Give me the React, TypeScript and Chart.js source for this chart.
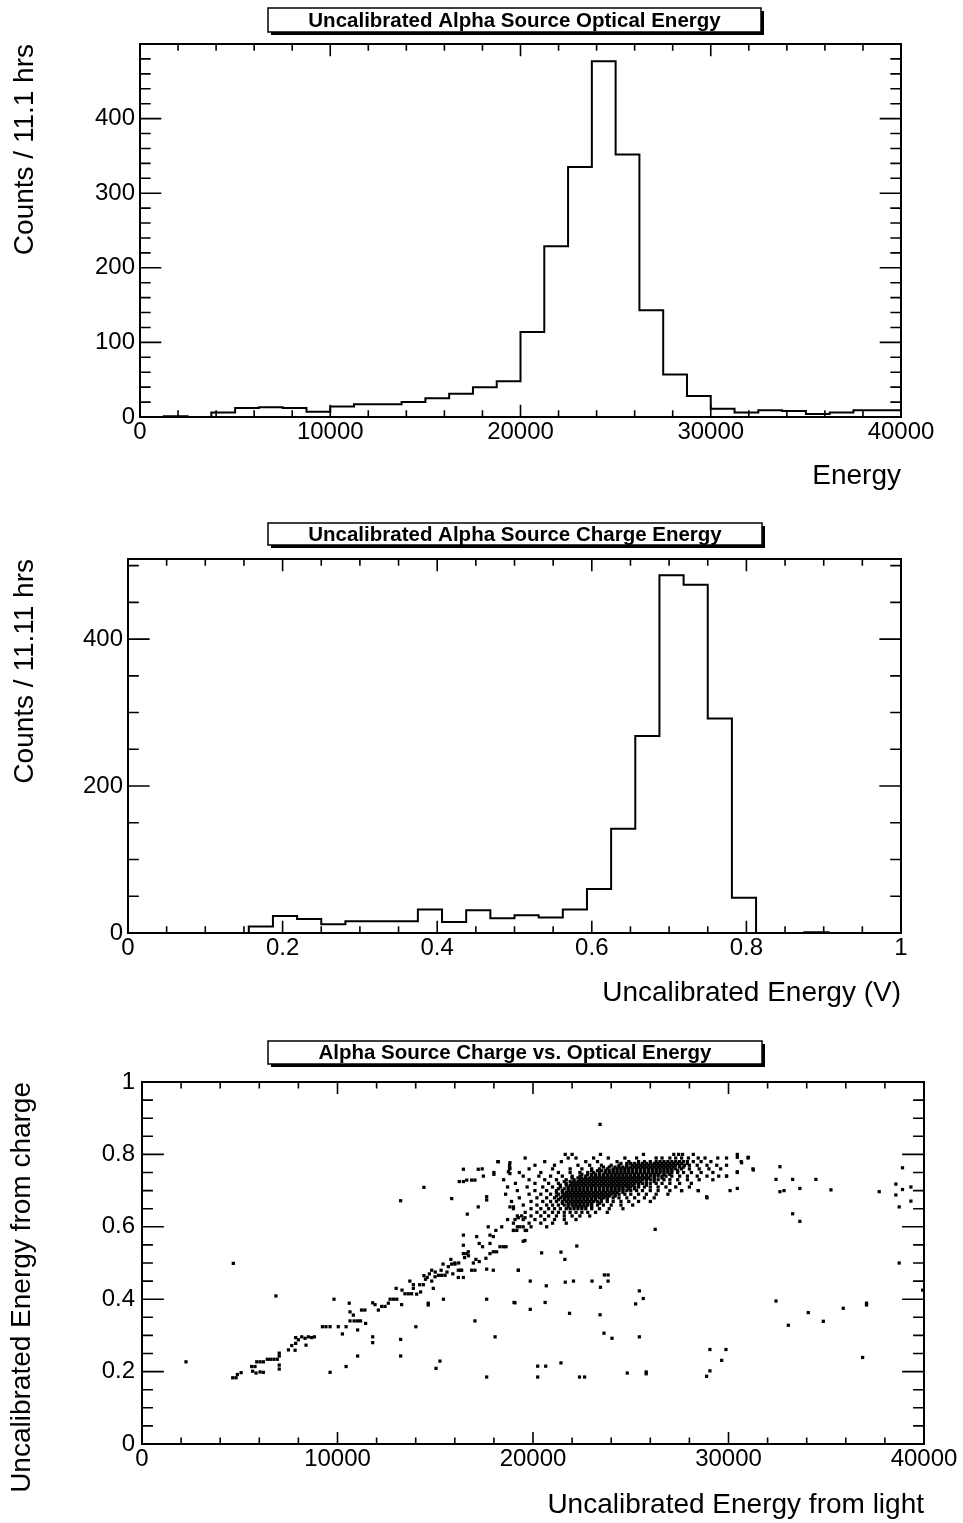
import { useEffect, useRef } from "react";
import { Chart, registerables } from "chart.js";

Chart.register(...registerables);

const FONT = '"Liberation Sans", Arial, Helvetica, sans-serif';

// ---- Optical energy histogram (32 bins, 0 .. 40000) ----
const opticalRange = [0, 40000];
const opticalCounts = [
  0, 1, 0, 6, 12, 13, 12, 7, 14, 17, 17, 20, 25, 31, 40, 48,
  114, 229, 335, 477, 352, 143, 57, 28, 11, 6, 9, 8, 4, 6, 9, 9,
];
const opticalXTicks = [0, 10000, 20000, 30000, 40000];
const opticalYTicks = [0, 100, 200, 300, 400];

// ---- Charge energy histogram (32 bins, 0 .. 1 V) ----
const chargeRange = [0, 1];
const chargeCounts = [
  0, 0, 0, 0, 0, 9, 23, 19, 12, 16, 16, 16, 32, 15, 31, 20,
  24, 21, 32, 60, 142, 268, 487, 474, 292, 48, 0, 0, 1, 0, 0, 0,
];
const chargeXTicks = [0, 0.2, 0.4, 0.6, 0.8, 1];
const chargeYTicks = [0, 200, 400];

// ---- Charge vs optical scatter ----
const scatterXTicks = [0, 10000, 20000, 30000, 40000];
const scatterYTicks = [0, 0.2, 0.4, 0.6, 0.8, 1];

// rising band of events below the main cluster
const bandPoints: [number, number][] = [
  [2250, 0.227], [4670, 0.499], [6850, 0.409],
  [4640, 0.183], [4810, 0.183], [4880, 0.192], [5070, 0.197],
  [5610, 0.214], [5780, 0.214], [5870, 0.227], [6040, 0.227], [6210, 0.227],
  [5660, 0.201], [5830, 0.196], [6040, 0.199], [6210, 0.198],
  [6410, 0.234], [6580, 0.234], [6750, 0.234], [6920, 0.234],
  [7020, 0.251], [7020, 0.243], [7020, 0.218], [7020, 0.207],
  [7490, 0.26], [7660, 0.272], [7860, 0.278], [7830, 0.259],
  [7860, 0.294], [8000, 0.288],
  [8170, 0.296], [8340, 0.292], [8510, 0.296], [8680, 0.294], [8820, 0.296],
  [8390, 0.273],
  [9230, 0.324], [9410, 0.324], [9620, 0.324],
  [9620, 0.198], [9820, 0.4], [10040, 0.324], [10250, 0.304], [10440, 0.324], [10440, 0.214],
  [10600, 0.389], [10640, 0.365], [10810, 0.356], [10850, 0.34], [11020, 0.34], [11180, 0.34], [10640, 0.34],
  [11030, 0.315], [11030, 0.243],
  [11230, 0.37], [11400, 0.37], [11440, 0.333],
  [11800, 0.39], [11920, 0.385], [12090, 0.37], [12260, 0.38], [12430, 0.38], [12600, 0.389],
  [12690, 0.4], [12860, 0.4], [13030, 0.4],
  [11800, 0.296], [11800, 0.28],
  [13230, 0.672], [13230, 0.289], [13230, 0.243],
  [13280, 0.385], [13450, 0.415], [13620, 0.415], [13790, 0.415], [13880, 0.44], [13880, 0.43],
  [14050, 0.414], [14250, 0.42], [14390, 0.44], [14420, 0.465], [14590, 0.46],
  [14010, 0.324], [14420, 0.709], [14640, 0.389], [14640, 0.384],
  [14820, 0.48], [14820, 0.45], [14900, 0.43], [14990, 0.462], [15160, 0.466], [15330, 0.466], [15500, 0.466],
  [15040, 0.209], [15240, 0.229], [15420, 0.4],
  [15670, 0.49], [15840, 0.497], [16010, 0.497], [16180, 0.48], [16350, 0.48], [16180, 0.46],
  [16440, 0.46], [16300, 0.48],
  [15840, 0.678],
  [16230, 0.725], [16440, 0.725], [16610, 0.729], [16440, 0.759],
  [16440, 0.577], [16440, 0.526], [16610, 0.526], [16690, 0.531], [16440, 0.549],
  [16860, 0.48], [17030, 0.48], [16950, 0.5], [17080, 0.51], [17250, 0.504],
  [16640, 0.635], [16860, 0.729], [17030, 0.729], [17030, 0.34], [17200, 0.759], [17460, 0.74], [17200, 0.655],
  [17120, 0.573], [17250, 0.554], [17420, 0.545],
  [17590, 0.513], [17630, 0.483],
  [17800, 0.526], [17970, 0.531], [18140, 0.531], [18310, 0.545], [18480, 0.545], [18620, 0.545],
  [17710, 0.6], [17800, 0.577], [17800, 0.554], [17970, 0.573], [17630, 0.683], [17630, 0.674],
  [17970, 0.48], [18000, 0.745], [18230, 0.78],
  [18740, 0.752], [18820, 0.762], [18820, 0.747], [18820, 0.777],
  [19080, 0.39], [17630, 0.4], [17630, 0.185], [18060, 0.296], [19250, 0.48],
  [19000, 0.59], [19170, 0.59], [19330, 0.6], [19500, 0.6], [19670, 0.59],
  [19080, 0.62], [19250, 0.625], [19420, 0.63], [19590, 0.625],
  [18820, 0.655], [19000, 0.655], [19500, 0.56], [19590, 0.562],
  [13000, 0.43], [13300, 0.425], [13700, 0.45], [14200, 0.44], [14500, 0.455], [14700, 0.47],
  [15000, 0.475], [15300, 0.48], [15600, 0.475], [15900, 0.47], [16200, 0.5], [16500, 0.515],
  [16700, 0.52], [15400, 0.497], [15800, 0.51], [16000, 0.5],
];

// main alpha cluster, listed row by row: [charge energy, optical energies...]
const clusterRows: [number, number[]][] = [
  [0.80, [21650, 22000, 23450, 25650, 27200, 27450, 27650, 28200, 30450]],
  [0.79, [19600, 21800, 22200, 23100, 23850, 24700, 25300, 26300, 26600, 27000, 27300, 27600, 27950, 28450, 28800, 29450, 29900, 31000]],
  [0.78, [18200, 20600, 21450, 22700, 23300, 24300, 24900, 25400, 25700, 26000, 26300, 26500, 26700, 26900, 27100, 27300, 27500, 27700, 27900, 28200, 28600, 29100, 30650]],
  [0.77, [18800, 20100, 21100, 22300, 22900, 23500, 24000, 24400, 24800, 25100, 25300, 25500, 25700, 25900, 26100, 26300, 26500, 26700, 26900, 27100, 27300, 27500, 27750, 28000, 28400, 28900, 29400, 29900]],
  [0.76, [17400, 18800, 19800, 21000, 21900, 22500, 23000, 23400, 23800, 24100, 24300, 24500, 24700, 24900, 25100, 25300, 25500, 25700, 25900, 26100, 26300, 26500, 26700, 26900, 27100, 27300, 27600, 28000, 28500, 29000, 29600, 31250]],
  [0.75, [18000, 19300, 20400, 21300, 21900, 22400, 22800, 23100, 23400, 23700, 23900, 24100, 24300, 24500, 24700, 24900, 25100, 25300, 25500, 25700, 25900, 26100, 26300, 26500, 26700, 26900, 27100, 27400, 27700, 28100, 28600, 29200, 30450]],
  [0.74, [19500, 20300, 20900, 21500, 22000, 22400, 22700, 23000, 23200, 23400, 23600, 23800, 24000, 24200, 24400, 24600, 24800, 25000, 25200, 25400, 25600, 25800, 26000, 26200, 26400, 26600, 26800, 27100, 27500, 27900, 28400, 28900, 29500, 29900]],
  [0.73, [18500, 19800, 20600, 21200, 21700, 22100, 22400, 22600, 22800, 23000, 23200, 23400, 23600, 23800, 24000, 24200, 24400, 24600, 24800, 25000, 25200, 25400, 25600, 25800, 26000, 26200, 26400, 26700, 27000, 27400, 27900, 28500, 29200]],
  [0.72, [19100, 20100, 20800, 21300, 21700, 22000, 22200, 22400, 22600, 22800, 23000, 23200, 23400, 23600, 23800, 24000, 24200, 24400, 24600, 24800, 25000, 25200, 25400, 25600, 25800, 26000, 26300, 26600, 27000, 27500, 28100]],
  [0.71, [18700, 19700, 20500, 21000, 21400, 21800, 22000, 22200, 22400, 22600, 22800, 23000, 23200, 23400, 23600, 23800, 24000, 24200, 24400, 24600, 24800, 25000, 25200, 25400, 25700, 26000, 26400, 26800, 27300, 28000]],
  [0.70, [19200, 20100, 20700, 21200, 21500, 21800, 22000, 22200, 22400, 22600, 22800, 23000, 23200, 23400, 23600, 23800, 24000, 24200, 24400, 24600, 24800, 25000, 25300, 25600, 26000, 26400, 27000, 27600, 28450]],
  [0.69, [18600, 19800, 20400, 20900, 21300, 21600, 21800, 22000, 22200, 22400, 22600, 22800, 23000, 23200, 23400, 23600, 23800, 24000, 24200, 24400, 24700, 25000, 25400, 25800, 26300, 26900]],
  [0.68, [19300, 20200, 20700, 21100, 21400, 21600, 21800, 22000, 22200, 22400, 22600, 22800, 23000, 23200, 23400, 23600, 23800, 24100, 24400, 24800, 25200, 25700, 26200, 28900]],
  [0.67, [18900, 19900, 20500, 20900, 21200, 21500, 21700, 21900, 22100, 22300, 22500, 22700, 22900, 23100, 23300, 23500, 23800, 24100, 24500, 24900, 25400, 26000]],
  [0.66, [19500, 20200, 20700, 21000, 21300, 21600, 21800, 22000, 22200, 22400, 22600, 22800, 23000, 23300, 23600, 24000, 24500, 25100]],
  [0.65, [19000, 19900, 20400, 20800, 21100, 21400, 21700, 21900, 22100, 22300, 22500, 22700, 23000, 23400, 23900, 24600]],
  [0.64, [19600, 20200, 20600, 21000, 21300, 21600, 21900, 22200, 22500, 22800, 23200, 23800]],
  [0.63, [19200, 19900, 20400, 20800, 21200, 21600, 22000, 22400, 22900]],
  [0.62, [18700, 19500, 20100, 20600, 21100, 21600, 22200]],
  [0.61, [19000, 19800, 20400, 21000, 21700]],
  [0.60, [18400, 19200, 19900, 20700]],
  [0.59, [18100, 19000, 19600]],
];

// the densest part of the cluster, between the rows above
const clusterCoreRows: [number, number[]][] = [
  [0.775, [24500, 24800, 25000, 25200, 25400, 25600, 25800, 26000, 26200, 26400, 26600, 26800, 27000, 27200, 27400, 27600, 27900]],
  [0.765, [23600, 23900, 24200, 24400, 24600, 24800, 25000, 25200, 25400, 25600, 25800, 26000, 26200, 26400, 26600, 26800, 27000, 27200, 27500, 27700]],
  [0.755, [23000, 23300, 23500, 23700, 23900, 24100, 24300, 24500, 24700, 24900, 25100, 25300, 25500, 25700, 25900, 26100, 26300, 26500, 26700, 26900, 27100, 27400]],
  [0.745, [22500, 22800, 23000, 23200, 23400, 23600, 23800, 24000, 24200, 24400, 24600, 24800, 25000, 25200, 25400, 25600, 25800, 26000, 26200, 26400, 26700, 27000]],
  [0.735, [22000, 22300, 22500, 22700, 22900, 23100, 23300, 23500, 23700, 23900, 24100, 24300, 24500, 24700, 24900, 25100, 25300, 25500, 25700, 25900, 26200, 26600]],
  [0.725, [21600, 21900, 22100, 22300, 22500, 22700, 22900, 23100, 23300, 23500, 23700, 23900, 24100, 24300, 24500, 24700, 24900, 25100, 25300, 25500, 25800, 26200]],
  [0.715, [21400, 21700, 21900, 22100, 22300, 22500, 22700, 22900, 23100, 23300, 23500, 23700, 23900, 24100, 24300, 24500, 24700, 24900, 25100, 25400, 25800]],
  [0.705, [21300, 21600, 21800, 22000, 22200, 22400, 22600, 22800, 23000, 23200, 23400, 23600, 23800, 24000, 24200, 24400, 24600, 24900, 25200]],
  [0.695, [21200, 21500, 21700, 21900, 22100, 22300, 22500, 22700, 22900, 23100, 23300, 23500, 23700, 23900, 24100, 24300, 24600]],
  [0.685, [21200, 21500, 21700, 21900, 22100, 22300, 22500, 22700, 22900, 23100, 23300, 23500, 23700, 23900, 24200]],
  [0.675, [21300, 21600, 21800, 22000, 22200, 22400, 22600, 22800, 23000, 23200, 23500, 23800]],
  [0.665, [21500, 21800, 22000, 22200, 22400, 22600, 22800, 23000, 23400]],
  [0.655, [21800, 22100, 22300, 22500, 22700, 23000]],
];

// isolated events away from the band and the cluster
const outlierPoints: [number, number][] = [
  [23430, 0.883], [20440, 0.528], [21430, 0.53], [21630, 0.51], [22240, 0.547], [19250, 0.48],
  [19860, 0.45], [20680, 0.437], [21650, 0.447], [22070, 0.45],
  [19030, 0.391], [20620, 0.391], [19860, 0.372], [21870, 0.361],
  [23020, 0.45], [23450, 0.433], [23650, 0.467], [23840, 0.467], [23840, 0.45], [23430, 0.357],
  [25250, 0.387], [25440, 0.423], [25640, 0.402],
  [23630, 0.306], [24040, 0.292], [25440, 0.296],
  [20240, 0.215], [20650, 0.215], [20240, 0.185], [21430, 0.224], [22380, 0.185], [22640, 0.185],
  [24820, 0.196], [25790, 0.199], [25790, 0.194],
  [26250, 0.593],
  [28880, 0.187], [29050, 0.202], [29050, 0.261], [29650, 0.231], [29870, 0.261],
  [30450, 0.792], [31010, 0.792], [30670, 0.777], [31270, 0.757], [30450, 0.752], [30080, 0.7],
  [30450, 0.706], [29900, 0.74],
  [28880, 0.683], [27600, 0.7], [28460, 0.7],
  [32630, 0.766], [32430, 0.731], [33280, 0.731], [34470, 0.731], [33650, 0.706], [35240, 0.702],
  [32630, 0.697], [32840, 0.7],
  [33280, 0.636], [33650, 0.615],
  [38730, 0.5], [37710, 0.697], [38560, 0.718], [38900, 0.703], [38560, 0.688], [39330, 0.71],
  [38900, 0.763], [38730, 0.655], [39330, 0.671],
  [32430, 0.395], [33060, 0.328], [34080, 0.363], [34850, 0.339], [35870, 0.375],
  [37060, 0.389], [37060, 0.384], [36860, 0.239], [39930, 0.425],
];

// ---------------------------------------------------------------

type Area = { left: number; right: number; top: number; bottom: number };
type PanelSpec = {
  canvasTop: number;
  canvasHeight: number;
  area: Area; // page coordinates of the plot frame
  xRange: number[];
  yRange: number[];
  xTicks: number[];
  yTicks: number[];
  xMinorStep: number;
  yMinorStep: number;
  xTitle: string;
  yTitle: string;
  yTitleOffset: number;
  yLabelPad: number;
  xScaleHeight: number;
  title: string;
  titleBox: { x: number; y: number; w: number; h: number }; // page coordinates
  datasets: any[];
  type: "line" | "scatter";
};

const histogramPoints = (counts: number[], range: number[]) => {
  const w = (range[1] - range[0]) / counts.length;
  const pts = counts.map((c, i) => ({ x: range[0] + i * w, y: c }));
  pts.push({ x: range[1], y: counts[counts.length - 1] });
  return pts;
};

const histDataset = (counts: number[], range: number[]) => ({
  data: histogramPoints(counts, range),
  stepped: true,
  borderColor: "#000",
  borderWidth: 2,
  pointRadius: 0,
  fill: false,
});

const rowsToPoints = (rows: [number, number[]][]) =>
  rows.flatMap(([y, xs]) => xs.map((x) => ({ x, y })));

const scatterData = [
  ...bandPoints.map(([x, y]) => ({ x, y })),
  ...rowsToPoints(clusterRows),
  ...rowsToPoints(clusterCoreRows),
  ...outlierPoints.map(([x, y]) => ({ x, y })),
];

const rootFrame = {
  id: "rootFrame",
  afterDraw(chart: any, _args: any, opts: any) {
    const { ctx, chartArea: a, scales } = chart;
    const xs = scales.x;
    const ys = scales.y;
    const h = a.bottom - a.top;
    const w = a.right - a.left;
    const xMaj = 0.033 * h;
    const yMaj = 0.028 * w;
    ctx.save();
    ctx.strokeStyle = "#000";
    ctx.lineWidth = 1.6;
    ctx.beginPath();
    const [x0, x1] = opts.xRange;
    const [y0, y1] = opts.yRange;
    for (let i = 0; x0 + i * opts.xMinorStep <= x1 + 1e-9; i++) {
      const v = x0 + i * opts.xMinorStep;
      const major = opts.xTicks.some((t: number) => Math.abs(t - v) < 1e-9);
      const len = major ? xMaj : xMaj * 0.55;
      const px = xs.getPixelForValue(v);
      ctx.moveTo(px, a.bottom);
      ctx.lineTo(px, a.bottom - len);
      ctx.moveTo(px, a.top);
      ctx.lineTo(px, a.top + len);
    }
    for (let i = 0; y0 + i * opts.yMinorStep <= y1 + 1e-9; i++) {
      const v = y0 + i * opts.yMinorStep;
      const major = opts.yTicks.some((t: number) => Math.abs(t - v) < 1e-9);
      const len = major ? yMaj : yMaj * 0.5;
      const py = ys.getPixelForValue(v);
      ctx.moveTo(a.left, py);
      ctx.lineTo(a.left + len, py);
      ctx.moveTo(a.right, py);
      ctx.lineTo(a.right - len, py);
    }
    ctx.stroke();
    ctx.lineWidth = 2;
    ctx.strokeRect(a.left, a.top, w, h);

    // title box with drop shadow
    const b = opts.box;
    ctx.fillStyle = "#000";
    ctx.fillRect(b.x + 3, b.y + 3, b.w, b.h);
    ctx.fillStyle = "#fff";
    ctx.fillRect(b.x, b.y, b.w, b.h);
    ctx.lineWidth = 1.5;
    ctx.strokeRect(b.x, b.y, b.w, b.h);
    ctx.fillStyle = "#000";
    ctx.font = `bold 20.5px ${FONT}`;
    ctx.textAlign = "center";
    ctx.textBaseline = "middle";
    ctx.fillText(opts.text, b.x + b.w / 2, b.y + b.h / 2 + 1);
    ctx.restore();
  },
};

const buildConfig = (p: PanelSpec): any => {
  const W = 963;
  const top = p.area.top - p.canvasTop;
  const bottom = p.area.bottom - p.canvasTop;
  const tickFont = { family: FONT, size: 24, lineHeight: 1 };
  const titleFont = { family: FONT, size: 28, lineHeight: 1.2 };
  return {
    type: p.type,
    data: { datasets: p.datasets },
    options: {
      responsive: false,
      animation: false,
      events: [],
      layout: {
        padding: {
          left: 0,
          right: W - p.area.right,
          top,
          bottom: p.canvasHeight - bottom - p.xScaleHeight,
        },
      },
      plugins: {
        legend: { display: false },
        title: { display: false },
        tooltip: { enabled: false },
        rootFrame: {
          xRange: p.xRange,
          yRange: p.yRange,
          xTicks: p.xTicks,
          yTicks: p.yTicks,
          xMinorStep: p.xMinorStep,
          yMinorStep: p.yMinorStep,
          text: p.title,
          box: { ...p.titleBox, y: p.titleBox.y - p.canvasTop },
        },
      },
      scales: {
        x: {
          type: "linear",
          min: p.xRange[0],
          max: p.xRange[1],
          afterBuildTicks: (s: any) => {
            s.ticks = p.xTicks.map((v) => ({ value: v }));
          },
          afterFit: (s: any) => {
            s.height = p.xScaleHeight;
          },
          grid: { display: false, drawTicks: false },
          border: { display: false },
          ticks: {
            callback: (v: number) => String(v),
            font: tickFont,
            color: "#000",
            padding: 3,
            maxRotation: 0,
            autoSkip: false,
          },
          title: {
            display: true,
            text: p.xTitle,
            align: "end",
            color: "#000",
            font: titleFont,
            padding: 0,
          },
        },
        y: {
          type: "linear",
          min: p.yRange[0],
          max: p.yRange[1],
          afterBuildTicks: (s: any) => {
            s.ticks = p.yTicks.map((v) => ({ value: v }));
          },
          afterFit: (s: any) => {
            s.width = p.area.left;
          },
          grid: { display: false, drawTicks: false },
          border: { display: false },
          ticks: {
            callback: (v: number) => String(v),
            font: tickFont,
            color: "#000",
            padding: p.yLabelPad,
            autoSkip: false,
          },
          title: {
            display: true,
            text: p.yTitle,
            align: "end",
            color: "#000",
            font: titleFont,
            padding: { top: p.yTitleOffset, bottom: 0 },
          },
        },
      },
    },
    plugins: [rootFrame],
  };
};

const panels: PanelSpec[] = [
  {
    canvasTop: 0,
    canvasHeight: 505,
    area: { left: 140, right: 901, top: 44, bottom: 417 },
    xRange: opticalRange,
    yRange: [0, 500],
    xTicks: opticalXTicks,
    yTicks: opticalYTicks,
    xMinorStep: 2000,
    yMinorStep: 20,
    xTitle: "Energy",
    yTitle: "Counts / 11.1 hrs",
    yTitleOffset: 8,
    yLabelPad: 5,
    xScaleHeight: 76,
    title: "Uncalibrated Alpha Source Optical Energy",
    titleBox: { x: 268, y: 8, w: 493, h: 24 },
    datasets: [histDataset(opticalCounts, opticalRange)],
    type: "line",
  },
  {
    canvasTop: 505,
    canvasHeight: 515,
    area: { left: 128, right: 901, top: 559, bottom: 933 },
    xRange: chargeRange,
    yRange: [0, 509],
    xTicks: chargeXTicks,
    yTicks: chargeYTicks,
    xMinorStep: 0.05,
    yMinorStep: 50,
    xTitle: "Uncalibrated Energy (V)",
    yTitle: "Counts / 11.11 hrs",
    yTitleOffset: 8,
    yLabelPad: 5,
    xScaleHeight: 77,
    title: "Uncalibrated Alpha Source Charge Energy",
    titleBox: { x: 268, y: 523, w: 494, h: 22 },
    datasets: [histDataset(chargeCounts, chargeRange)],
    type: "line",
  },
  {
    canvasTop: 1020,
    canvasHeight: 503,
    area: { left: 142, right: 924, top: 1082, bottom: 1444 },
    xRange: [0, 40000],
    yRange: [0, 1],
    xTicks: scatterXTicks,
    yTicks: scatterYTicks,
    xMinorStep: 2000,
    yMinorStep: 0.05,
    xTitle: "Uncalibrated Energy from light",
    yTitle: "Uncalibrated Energy from charge",
    yTitleOffset: 5,
    yLabelPad: 7,
    xScaleHeight: 78,
    title: "Alpha Source Charge vs. Optical Energy",
    titleBox: { x: 268, y: 1041, w: 494, h: 23 },
    datasets: [
      {
        data: scatterData,
        pointStyle: "rect",
        pointRadius: 2.3,
        pointBackgroundColor: "#000",
        pointBorderWidth: 0,
        showLine: false,
      },
    ],
    type: "scatter",
  },
];

function PanelCanvas({ spec }: { spec: PanelSpec }) {
  const ref = useRef<HTMLCanvasElement | null>(null);
  useEffect(() => {
    if (!ref.current) return;
    const chart = new Chart(ref.current, buildConfig(spec));
    return () => chart.destroy();
  }, [spec]);
  return (
    <canvas
      ref={ref}
      width={963}
      height={spec.canvasHeight}
      style={{
        position: "absolute",
        left: 0,
        top: spec.canvasTop,
        width: 963,
        height: spec.canvasHeight,
      }}
    />
  );
}

export default function App() {
  return (
    <div
      style={{
        position: "absolute",
        left: 0,
        top: 0,
        width: 963,
        height: 1523,
        background: "#fff",
        overflow: "hidden",
      }}
    >
      {panels.map((p, i) => (
        <PanelCanvas key={i} spec={p} />
      ))}
    </div>
  );
}
